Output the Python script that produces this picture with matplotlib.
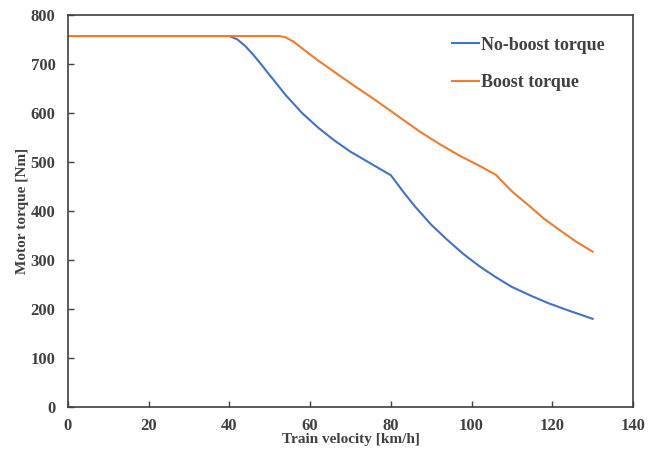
import matplotlib.pyplot as plt

# Train velocity [km/h] and motor torque [Nm]
v_noboost = [0, 40, 42, 44, 46, 48, 50, 54, 58, 62, 66, 70, 75, 80, 83, 86, 90, 94, 98, 102, 106, 110, 115, 119, 124, 130]
t_noboost = [757, 757, 750, 736, 718, 698, 677, 636, 600, 570, 544, 521, 497, 473, 440, 409, 372, 341, 312, 287, 265, 245, 226, 212, 197, 180]

v_boost = [0, 52.5, 54, 56, 58, 62, 67, 71, 75, 80, 87, 92, 97, 102, 106, 110, 114.5, 118, 122, 126, 130]
t_boost = [757, 757, 754, 745, 732, 707, 678, 655, 633, 604, 563, 537, 513, 492, 474, 440, 409, 384, 360, 337, 317]

txt = '#404040'
plt.rcParams['font.family'] = ['Liberation Serif', 'DejaVu Serif']
plt.rcParams['font.weight'] = 'bold'

fig = plt.figure(figsize=(6.58, 4.54), dpi=100)
ax = fig.add_axes([0.1033, 0.1035, 0.8587, 0.8635])

ax.plot(v_noboost, t_noboost, color='#4472C4', linewidth=1.5, label='No-boost torque')
ax.plot(v_boost, t_boost, color='#ED7D31', linewidth=1.5, label='Boost torque')

ax.set_xlim(0, 140)
ax.set_ylim(0, 800)
ax.set_xticks(range(0, 141, 20))
ax.set_yticks(range(0, 801, 100))
ax.tick_params(direction='in', length=4, width=1, colors='#404040', labelsize=12)
ax.tick_params(axis='x', pad=8)
ax.tick_params(axis='y', pad=9)
for lab in ax.get_xticklabels() + ax.get_yticklabels():
    lab.set_fontweight('bold')
    lab.set_color(txt)
for s in ax.spines.values():
    s.set_color('#404040')
    s.set_linewidth(1.2)

ax.set_xlabel('Train velocity [km/h]', fontsize=11, fontweight='bold', color=txt, labelpad=-1)
ax.set_ylabel('Motor torque [Nm]', fontsize=11, fontweight='bold', color=txt, labelpad=1)

leg = ax.legend(loc='upper left', bbox_to_anchor=(0.68, 0.945), frameon=False,
                fontsize=13, handlelength=1.5, handletextpad=0.1, labelspacing=1.15,
                borderpad=0, borderaxespad=0)
for t in leg.get_texts():
    t.set_color(txt)
    t.set_fontweight('bold')

fig.savefig('out.png', dpi=100)
